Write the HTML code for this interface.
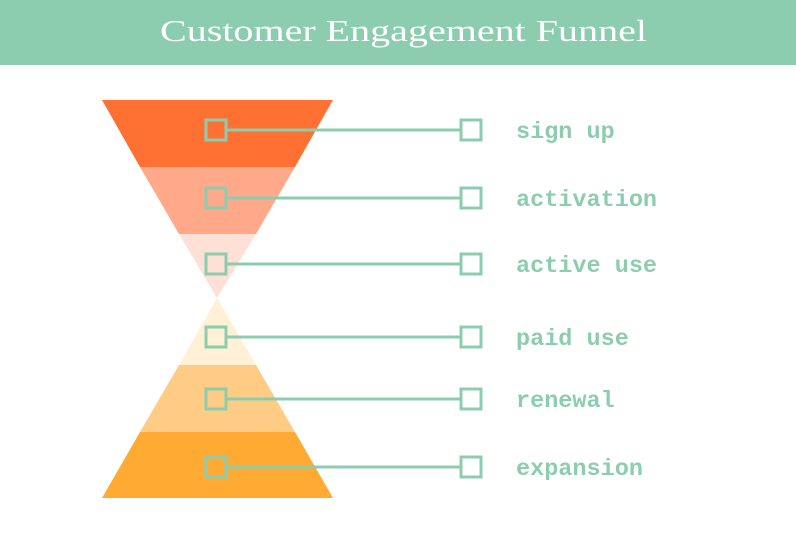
<!DOCTYPE html>
<html><head><style>
body{margin:0;width:796px;height:552px;background:#fff;overflow:hidden}
</style></head><body>
<svg width="796" height="552" xmlns="http://www.w3.org/2000/svg">
<rect x="0" y="0" width="796" height="65" fill="#8ccdaf"/>
<text x="160" y="41" textLength="487" lengthAdjust="spacingAndGlyphs" fill="#fff" font-family="Liberation Serif, serif" font-size="31">Customer Engagement Funnel</text>
<polygon points="102,100 333,100 295,167 140,167" fill="#ff7033"/>
<polygon points="140,167 295,167 256,234 179,234" fill="#ffa88a"/>
<polygon points="179,234 256,234 217,298" fill="#ffe0d6"/>
<polygon points="217,298 256,365 179,365" fill="#fff0d6"/>
<polygon points="179,365 256,365 295,432 140,432" fill="#ffcc85"/>
<polygon points="140,432 295,432 333,498 102,498" fill="#ffaa33"/>
<g stroke="#8ccdaf" stroke-width="3" fill="none">
<line x1="226" y1="130" x2="460" y2="130"/><rect x="206" y="120" width="20" height="20"/><rect x="461" y="120" width="20" height="20"/>
<line x1="226" y1="198" x2="460" y2="198"/><rect x="206" y="188" width="20" height="20"/><rect x="461" y="188" width="20" height="20"/>
<line x1="226" y1="264" x2="460" y2="264"/><rect x="206" y="254" width="20" height="20"/><rect x="461" y="254" width="20" height="20"/>
<line x1="226" y1="337" x2="460" y2="337"/><rect x="206" y="327" width="20" height="20"/><rect x="461" y="327" width="20" height="20"/>
<line x1="226" y1="399" x2="460" y2="399"/><rect x="206" y="389" width="20" height="20"/><rect x="461" y="389" width="20" height="20"/>
<line x1="226" y1="467" x2="460" y2="467"/><rect x="206" y="457" width="20" height="20"/><rect x="461" y="457" width="20" height="20"/>
</g>
<g fill="#8ccdaf" font-family="Liberation Mono, monospace" font-weight="bold" font-size="23.5">
<text x="516" y="138">sign up</text>
<text x="516" y="206">activation</text>
<text x="516" y="272">active use</text>
<text x="516" y="345">paid use</text>
<text x="516" y="407">renewal</text>
<text x="516" y="475">expansion</text>
</g>
</svg>
</body></html>
